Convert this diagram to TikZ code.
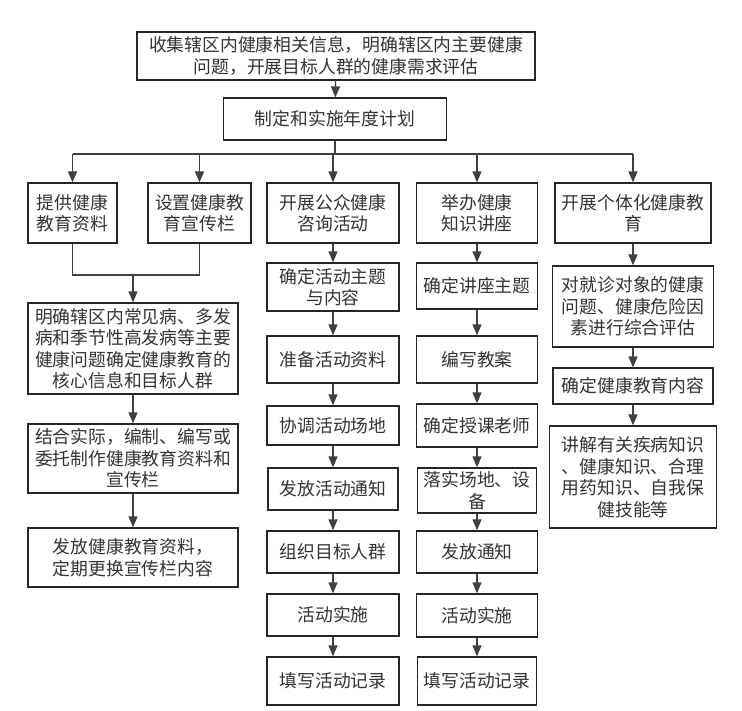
\documentclass[tikz,border=0pt]{standalone}
\usepackage{fontspec}
\newfontfamily\cjk{Noto Sans CJK SC}
\usetikzlibrary{arrows.meta}
\begin{document}
\begin{tikzpicture}[x=1pt,y=-1pt,
 box/.style={draw=black!85, line width=1.3pt, inner sep=0pt, align=center,
   font=\cjk\fontsize{17.8}{21.5}\selectfont, text=black!80},
 arr/.style={draw=black!75, line width=1.3pt, -{Triangle[width=9pt,length=11pt]}},
 ln/.style={draw=black!75, line width=1.3pt}]
\useasboundingbox (0,0) rectangle (742,710);
\fill[white] (0,0) rectangle (742,710);
% top
\node[box,minimum width=398pt,minimum height=48pt] (T) at (336,56) {收集辖区内健康相关信息，明确辖区内主要健康\\问题，开展目标人群的健康需求评估};
\node[box,minimum width=223pt,minimum height=42pt] (P) at (335,119) {制定和实施年度计划};
% row
\node[box,minimum width=89pt,minimum height=60pt] (A) at (72.5,213) {提供健康\\教育资料};
\node[box,minimum width=103pt,minimum height=60pt] (B) at (199.5,213) {设置健康教\\育宣传栏};
\node[box,minimum width=132pt,minimum height=60pt] (C) at (333,213) {开展公众健康\\咨询活动};
\node[box,minimum width=121pt,minimum height=60pt] (D) at (477,213) {举办健康\\知识讲座};
\node[box,minimum width=156pt,minimum height=60pt] (E) at (633,213) {开展个体化健康教\\育};
% left column
\node[box,minimum width=210pt,minimum height=91pt] (F) at (133,348.5) {明确辖区内常见病、多发\\病和季节性高发病等主要\\健康问题确定健康教育的\\核心信息和目标人群};
\node[box,minimum width=210pt,minimum height=69pt] (G) at (133,458.5) {结合实际，编制、编写或\\委托制作健康教育资料和\\宣传栏};
\node[box,minimum width=210pt,minimum height=59pt] (H) at (133,557.5) {发放健康教育资料，\\定期更换宣传栏内容};
% C column
\node[box,minimum width=132pt,minimum height=48pt] (C1) at (333,287) {确定活动主题\\与内容};
\node[box,minimum width=132pt,minimum height=47pt] (C2) at (333,359.5) {准备活动资料};
\node[box,minimum width=132pt,minimum height=39pt] (C3) at (333,425.5) {协调活动场地};
\node[box,minimum width=130pt,minimum height=42pt] (C4) at (333,489) {发放活动通知};
\node[box,minimum width=132pt,minimum height=42pt] (C5) at (333,552) {组织目标人群};
\node[box,minimum width=132pt,minimum height=42pt] (C6) at (333,615) {活动实施};
\node[box,minimum width=132pt,minimum height=48pt] (C7) at (333,681) {填写活动记录};
% D column
\node[box,minimum width=121pt,minimum height=46pt] (D1) at (477,286) {确定讲座主题};
\node[box,minimum width=121pt,minimum height=47pt] (D2) at (477,359.5) {编写教案};
\node[box,minimum width=121pt,minimum height=43pt] (D3) at (477,425.5) {确定授课老师};
\node[box,minimum width=119pt,minimum height=45pt] (D4) at (477,490.5) {落实场地、设\\备};
\node[box,minimum width=121pt,minimum height=42pt] (D5) at (477,552) {发放通知};
\node[box,minimum width=121pt,minimum height=43pt] (D6) at (477,615.5) {活动实施};
\node[box,minimum width=119pt,minimum height=48pt] (D7) at (477,681) {填写活动记录};
% E column
\node[box,minimum width=161pt,minimum height=81pt] (E1) at (633,306.5) {对就诊对象的健康\\问题、健康危险因\\素进行综合评估};
\node[box,minimum width=160pt,minimum height=36pt] (E2) at (633,386) {确定健康教育内容};
\node[box,minimum width=167pt,minimum height=102pt] (E3) at (633,477) {讲解有关疾病知识\\、健康知识、合理\\用药知识、自我保\\健技能等};
% connectors
\draw[arr] (T) -- (P);
\coordinate (bus) at (0,154);
\coordinate (m) at (0,275);
\draw[ln] (P.south) -- (P.south |- bus);
\draw[ln] (A.north |- bus) -- (E.north |- bus);
\foreach \n in {A,B,C,D,E} \draw[arr] (\n.north |- bus) -- (\n.north);
\draw[ln] (A.south) -- (A.south |- m) -- (B.south |- m) -- (B.south);
\draw[arr] (F.north |- m) -- (F.north);
\draw[arr] (F) -- (G);
\draw[arr] (G) -- (H);
\draw[arr] (C) -- (C1);
\draw[arr] (C1) -- (C2);
\draw[arr] (C2) -- (C3);
\draw[arr] (C3) -- (C4);
\draw[arr] (C4) -- (C5);
\draw[arr] (C5) -- (C6);
\draw[arr] (C6) -- (C7);
\draw[arr] (D) -- (D1);
\draw[arr] (D1) -- (D2);
\draw[arr] (D2) -- (D3);
\draw[arr] (D3) -- (D4);
\draw[arr] (D4) -- (D5);
\draw[arr] (D5) -- (D6);
\draw[arr] (D6) -- (D7);
\draw[arr] (E) -- (E1);
\draw[arr] (E1) -- (E2);
\draw[arr] (E2) -- (E3);
\end{tikzpicture}
\end{document}
